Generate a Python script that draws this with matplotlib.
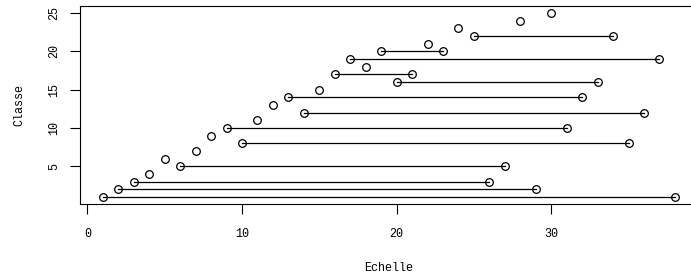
import matplotlib
matplotlib.use("Agg")
import matplotlib.pyplot as plt

# Classes with a segment: start and end on the scale
seg_classes = [1, 2, 3, 5, 8, 10, 12, 14, 16, 17, 19, 20, 22]
seg_start = [1, 2, 3, 6, 10, 9, 14, 13, 20, 16, 17, 19, 25]
seg_end = [38, 29, 26, 27, 35, 31, 36, 32, 33, 21, 37, 23, 34]

# Classes with a single point
pt_classes = [4, 6, 7, 9, 11, 13, 15, 18, 21, 23, 24, 25]
pt_values = [4, 5, 7, 8, 11, 12, 15, 18, 22, 24, 28, 30]

xticks = [0, 10, 20, 30]
yticks = [5, 10, 15, 20, 25]

plt.rcParams['font.family'] = ['Liberation Mono', 'DejaVu Sans Mono']

fig = plt.figure(figsize=(6.91, 2.80), dpi=100)
ax = fig.add_axes([80/691, 1-204.4/280, (697.8-80)/691, (204.4-5.6)/280])

for c, s, e in zip(seg_classes, seg_start, seg_end):
    ax.plot([s, e], [c, c], color='black', lw=0.9)
    ax.plot([s, e], [c, c], ls='none', marker='o', ms=5.5, mfc='none', mec='black', mew=0.9)
ax.plot(pt_values, pt_classes, ls='none', marker='o', ms=5.5, mfc='none', mec='black', mew=0.9)

ax.set_xlim(-0.48, 39.48)
ax.set_ylim(0.04, 25.96)
ax.set_xticks(xticks)
ax.set_yticks(yticks)
ax.set_xticklabels([str(v) for v in xticks], fontsize=8.5)
ax.set_yticklabels([str(v) for v in yticks], fontsize=8.5, rotation=90, va='center')
ax.tick_params(axis='x', length=7, width=0.8, pad=10)
ax.tick_params(axis='y', length=7, width=0.8, pad=7)
for sp in ax.spines.values():
    sp.set_linewidth(0.8)
ax.set_xlabel('Echelle', fontsize=8.5, labelpad=16)
ax.set_ylabel('Classe', fontsize=8.5, labelpad=17)

fig.savefig('out.png', dpi=100)
